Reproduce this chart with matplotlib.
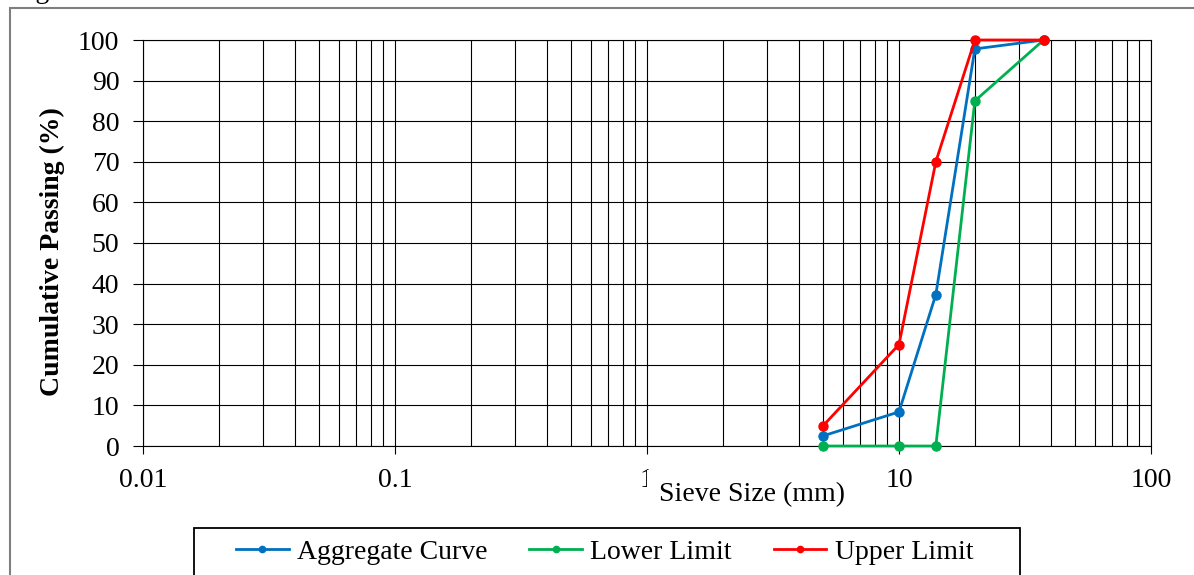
#!/usr/bin/env python3
"""
Grading curve of the aggregate against the specification envelope.
"""

import matplotlib
matplotlib.use("Agg")
import matplotlib.pyplot as plt
from matplotlib.lines import Line2D
from matplotlib.patches import Rectangle
from matplotlib.ticker import FixedLocator, LogLocator, FuncFormatter

# Sieve sizes (mm) and cumulative passing (%)
sieve_mm = [5, 10, 14, 20, 37.5]
aggregate = [2.5, 8.4, 37.3, 97.8, 100]
lower_limit = [0, 0, 0, 85, 100]
upper_limit = [5, 25, 70, 100, 100]

series = [
    ("Aggregate Curve", aggregate, "#0070C0"),
    ("Lower Limit", lower_limit, "#00B050"),
    ("Upper Limit", upper_limit, "#FF0000"),
]

W, H = 1194, 575
plt.rcParams["font.family"] = ["Liberation Serif", "DejaVu Serif"]

fig = plt.figure(figsize=(W / 100, H / 100), dpi=100)
ax = fig.add_axes([143 / W, 1 - 446 / H, 1008 / W, 406 / H])

for name, vals, col in series:
    ax.plot(sieve_mm, vals, color=col, lw=2.0, marker="o", ms=6.5,
            clip_on=False, zorder=3, label=name)

ax.set_xscale("log")
ax.set_xlim(0.01, 100)
ax.set_ylim(0, 100)
ax.yaxis.set_major_locator(FixedLocator(range(0, 101, 10)))
ax.xaxis.set_major_locator(FixedLocator([0.01, 0.1, 1, 10, 100]))
ax.xaxis.set_minor_locator(LogLocator(base=10, subs=range(2, 10)))
ax.xaxis.set_major_formatter(FuncFormatter(lambda v, p: f"{v:g}"))

ax.grid(which="both", axis="x", color="black", lw=0.8)
ax.grid(which="major", axis="y", color="black", lw=0.8)
ax.set_axisbelow(True)

ax.tick_params(axis="both", which="major", labelsize=20, color="black",
               width=0.8)
ax.tick_params(axis="x", which="major", length=6, pad=10)
ax.tick_params(axis="y", which="major", length=7, pad=10)
ax.tick_params(axis="x", which="minor", length=0)
for sp in ax.spines.values():
    sp.set_linewidth(0.8)
    sp.set_color("black")

# the label box sits over part of the "1" tick label
ax.set_xlabel("Sieve Size (mm)", fontsize=20, va="center",
              bbox=dict(boxstyle="square,pad=0.45", fc="white", ec="none"))
ax.xaxis.set_label_coords((752 - 143) / 1008, (446 - 495) / 406)
ax.set_ylabel("Cumulative Passing (%)", fontsize=20, fontweight="bold",
              va="center")
ax.yaxis.set_label_coords((52 - 143) / 1008, (446 - 252) / 406)

# legend entries with smaller markers, inside a hand-drawn frame
handles = [Line2D([], [], color=c, lw=2.0, marker="o", ms=4.5)
           for _, _, c in series]
labels = [n for n, _, _ in series]
fig.legend(handles, labels, ncol=3, fontsize=20, loc="center left",
           bbox_to_anchor=(236 / W, 1 - 552 / H), frameon=False,
           borderpad=0, handlelength=1.9, handletextpad=0.3,
           columnspacing=1.5, borderaxespad=0)
fig.patches.append(Rectangle((194 / W, -0.02), (1020 - 194) / W,
                             0.02 + 1 - 528 / H, transform=fig.transFigure,
                             fill=False, edgecolor="black", lw=1.3))

# outer frame of the figure and the clipped caption above it
fig.patches.append(Rectangle((10 / W, -0.05), 1.1, 0.05 + 1 - 8 / H,
                             transform=fig.transFigure, fill=False,
                             edgecolor="#7f7f7f", lw=1.5))
fig.text(12 / W, 1 + 2 / H, "Figure", fontsize=20, va="baseline")

fig.savefig("out.png", dpi=100)
